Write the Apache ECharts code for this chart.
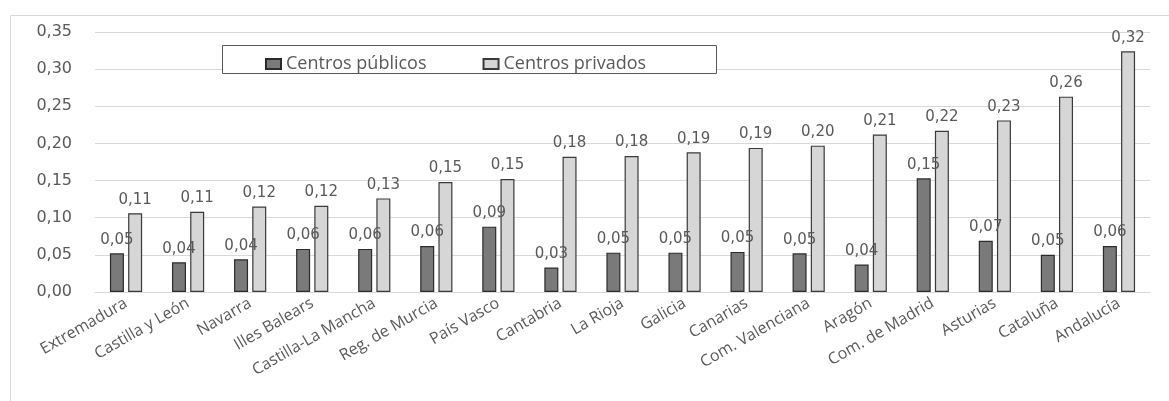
<!DOCTYPE html>
<html>
<head>
<meta charset="utf-8">
<script src="https://cdn.jsdelivr.net/npm/echarts@6/dist/echarts.min.js"></script>
<style>
  html, body { margin: 0; padding: 0; background: #fff; }
  #chart { width: 1169px; height: 401px; }
</style>
</head>
<body>
<div id="chart"></div>
<script>
// Regions, sorted by the private-school ratio
const regions = [
  'Extremadura', 'Castilla y León', 'Navarra', 'Illes Balears', 'Castilla-La Mancha',
  'Reg. de Murcia', 'País Vasco', 'Cantabria', 'La Rioja', 'Galicia', 'Canarias',
  'Com. Valenciana', 'Aragón', 'Com. de Madrid', 'Asturias', 'Cataluña', 'Andalucía'
];
const publicos = [0.052, 0.040, 0.044, 0.058, 0.058, 0.062, 0.088, 0.033, 0.053, 0.053, 0.054, 0.052, 0.037, 0.153, 0.069, 0.050, 0.062];
const privados = [0.106, 0.108, 0.115, 0.116, 0.126, 0.148, 0.152, 0.182, 0.183, 0.188, 0.194, 0.197, 0.212, 0.217, 0.231, 0.263, 0.324];
const yTicks = { min: 0, max: 0.35, interval: 0.05 };

const fmt = v => v.toFixed(2).replace('.', ',');
const numFont = '"DejaVu Sans", Verdana, sans-serif';
const txtFont = '"Open Sans", sans-serif';

const labelStyle = {
  show: true,
  position: 'top',
  distance: 6,
  color: '#595959',
  fontFamily: numFont,
  fontSize: 15,
  formatter: p => fmt(p.value)
};

const chart = echarts.init(document.getElementById('chart'), null, { renderer: 'canvas' });
chart.setOption({
  animation: false,
  backgroundColor: '#ffffff',
  graphic: [
    { type: 'rect', left: 8, top: 13, shape: { width: 1175, height: 400 },
      style: { fill: 'none', stroke: '#d9d9d9', lineWidth: 1 }, silent: true },
    { type: 'rect', left: 222, top: 45, z: 100, shape: { width: 494, height: 28 },
      style: { fill: '#ffffff', stroke: '#595959', lineWidth: 1 }, silent: true }
  ],
  legend: {
    left: 260,
    top: 50,
    z: 110,
    icon: 'rect',
    itemWidth: 15,
    itemHeight: 10,
    itemGap: 56,
    textStyle: { fontFamily: txtFont, fontSize: 18, color: '#595959' },
    data: ['Centros públicos', 'Centros privados']
  },
  grid: { left: 95, right: 19, top: 32, bottom: 109 },
  xAxis: {
    type: 'category',
    data: regions,
    axisLine: { lineStyle: { color: '#d9d9d9' } },
    axisTick: { show: false },
    axisLabel: {
      interval: 0,
      rotate: 30,
      margin: 10,
      color: '#595959',
      fontFamily: txtFont,
      fontSize: 16
    }
  },
  yAxis: {
    type: 'value',
    min: yTicks.min,
    max: yTicks.max,
    interval: yTicks.interval,
    axisLine: { show: false },
    axisTick: { show: false },
    splitLine: { lineStyle: { color: '#d9d9d9' } },
    axisLabel: {
      margin: 23,
      color: '#595959',
      fontFamily: numFont,
      fontSize: 16,
      formatter: v => fmt(v)
    }
  },
  series: [
    {
      name: 'Centros públicos',
      type: 'bar',
      data: publicos,
      barWidth: 14,
      barGap: '30%',
      itemStyle: { color: '#7a7a7a', borderColor: '#2b2b2b', borderWidth: 1.2 },
      label: labelStyle
    },
    {
      name: 'Centros privados',
      type: 'bar',
      data: privados,
      barWidth: 14,
      itemStyle: { color: '#d6d6d6', borderColor: '#3a3a3a', borderWidth: 1.2 },
      label: labelStyle
    }
  ]
});
</script>
</body>
</html>
